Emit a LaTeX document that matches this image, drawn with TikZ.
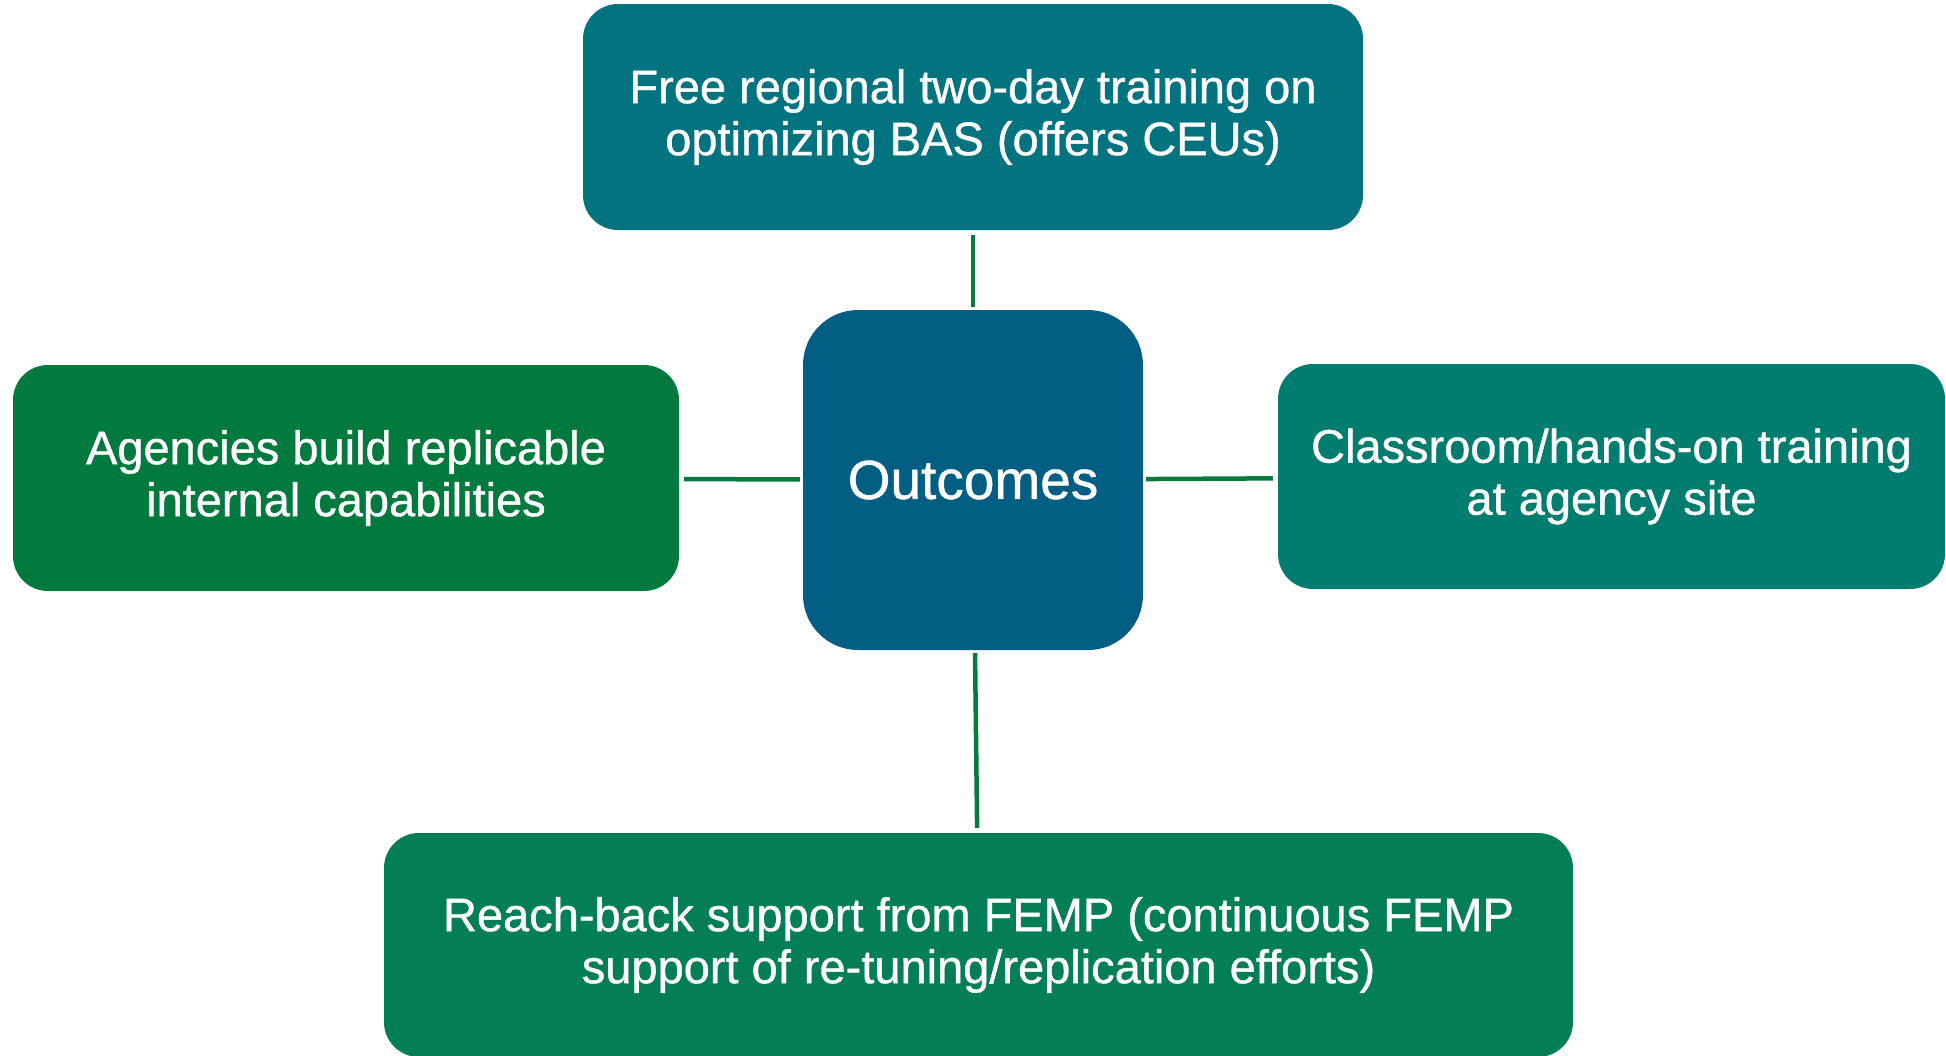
\documentclass[tikz,border=0pt]{standalone}
\usepackage{fontspec}
\setmainfont{Liberation Sans}
\newfontfamily\boxfont{Liberation Sans}[FakeBold=0.8]
\definecolor{boxteal}{HTML}{03747F}
\definecolor{boxblue}{HTML}{025E82}
\definecolor{boxgreen}{HTML}{02793D}
\definecolor{boxsea}{HTML}{017D6F}
\definecolor{boxjade}{HTML}{037E56}
\definecolor{linkgreen}{HTML}{087A3E}
\begin{document}
\begin{tikzpicture}[x=1pt, y=-1pt,
    box/.style={rectangle, rounded corners=35pt, inner sep=0pt, align=center, text=white,
      font=\boxfont\fontsize{47}{52}\selectfont},
    link/.style={draw=linkgreen, line width=4.5pt, shorten <=5pt, shorten >=3pt}]
      \useasboundingbox (0,0) rectangle (1946,1055);

      \node[box, fill=boxblue, rounded corners=55pt, minimum width=340pt, minimum height=340pt,
        font=\boxfont\fontsize{55}{60}\selectfont] (Out) at (973,480) {Outcomes};

      \node[box, fill=boxteal, minimum width=780pt, minimum height=226pt] (Train) at (973,117)
        {Free regional two-day training on\\optimizing BAS (offers CEUs)};
      \node[box, fill=boxgreen, minimum width=666pt, minimum height=226pt] (Agency) at (346,478)
        {Agencies build replicable\\internal capabilities};
      \node[box, fill=boxsea, minimum width=667pt, minimum height=225pt] (Site) at (1611.5,476.5)
        {Classroom/hands-on training\\at agency site};
      \node[box, fill=boxjade, minimum width=1189pt, minimum height=224pt] (Reach) at (978.5,945)
        {Reach-back support from FEMP (continuous FEMP\\support of re-tuning/replication efforts)};

      \foreach \n in {Train, Agency, Site, Reach} {
        \draw[link] (\n) -- (Out);
      }
    \end{tikzpicture}
\end{document}
